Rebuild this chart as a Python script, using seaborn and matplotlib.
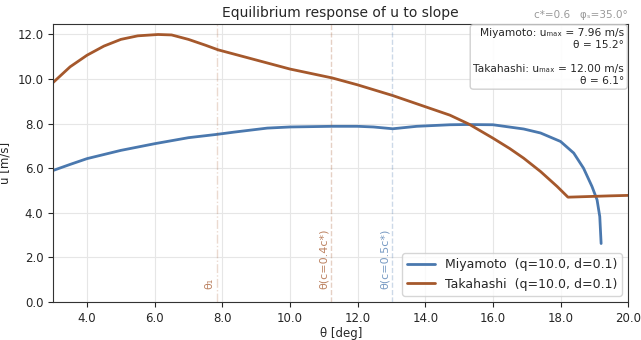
import numpy as np
import pandas as pd
import matplotlib
matplotlib.use("Agg")
import matplotlib.pyplot as plt
import seaborn as sns
from matplotlib.ticker import FormatStrFormatter

# --- data ---
theta_miy = [3.0, 3.5, 4.0, 5.0, 6.0, 7.0, 7.85, 8.35, 9.33, 10.0, 11.25, 12.0,
             12.47, 13.04, 13.75, 14.73, 15.2, 16.0, 16.91, 17.41, 18.0, 18.39,
             18.68, 18.93, 19.08, 19.16, 19.2]
u_miy = [5.90, 6.17, 6.43, 6.80, 7.10, 7.37, 7.52, 7.62, 7.80, 7.85, 7.88, 7.88,
         7.85, 7.77, 7.88, 7.95, 7.96, 7.95, 7.76, 7.58, 7.20, 6.68,
         6.00, 5.18, 4.58, 3.83, 2.62]

theta_tak = [3.0, 3.5, 4.0, 4.5, 5.0, 5.5, 6.1, 6.5, 7.0, 7.5, 7.88, 10.0, 11.25,
             12.0, 13.04, 14.0, 14.73, 15.29, 16.0, 16.5, 16.91, 17.41, 17.9, 18.22,
             19.47, 20.0]
u_tak = [9.85, 10.55, 11.07, 11.48, 11.78, 11.94, 12.00, 11.98, 11.78, 11.52, 11.31,
         10.45, 10.05, 9.74, 9.26, 8.76, 8.38, 7.98, 7.35, 6.88, 6.45, 5.85, 5.18,
         4.70, 4.76, 4.78]

theta_1 = 7.85
theta_c04 = 11.22
theta_c05 = 13.02

c_blue = "#4a78ae"
c_brown = "#a5582c"

df = pd.concat([
    pd.DataFrame({"theta": theta_miy, "u": u_miy, "model": "Miyamoto  (q=10.0, d=0.1)"}),
    pd.DataFrame({"theta": theta_tak, "u": u_tak, "model": "Takahashi  (q=10.0, d=0.1)"}),
])

sns.set_style("ticks")
plt.rcParams['font.family'] = ['DejaVu Sans']

fig, ax = plt.subplots(figsize=(6.41, 3.40), dpi=100)
fig.subplots_adjust(left=0.083, right=0.98, bottom=0.112, top=0.93)

ax.grid(True, color="#e6e6e6", linewidth=0.8)
ax.set_axisbelow(True)

sns.lineplot(data=df, x="theta", y="u", hue="model", sort=False,
             palette=[c_blue, c_brown], linewidth=2, ax=ax)

# reference lines
ax.axvline(theta_1, color=c_brown, alpha=0.22, linestyle="-.", linewidth=1)
ax.axvline(theta_c04, color=c_brown, alpha=0.28, linestyle="--", linewidth=1)
ax.axvline(theta_c05, color=c_blue, alpha=0.28, linestyle="--", linewidth=1)
ax.text(theta_1 - 0.08, 0.6, "θ₁", rotation=90, ha="right", va="bottom",
        fontsize=8, color=c_brown, alpha=0.75)
ax.text(theta_c04 - 0.08, 0.6, "θ(c=0.4c*)", rotation=90, ha="right", va="bottom",
        fontsize=8, color=c_brown, alpha=0.75)
ax.text(theta_c05 - 0.08, 0.6, "θ(c=0.5c*)", rotation=90, ha="right", va="bottom",
        fontsize=8, color=c_blue, alpha=0.75)

ax.set_xlim(3, 20)
ax.set_ylim(0, 12.48)
ax.set_xticks(np.arange(4, 21, 2))
ax.set_yticks(np.arange(0, 13, 2))
ax.xaxis.set_major_formatter(FormatStrFormatter('%.1f'))
ax.yaxis.set_major_formatter(FormatStrFormatter('%.1f'))
ax.tick_params(labelsize=8.5)
for s in ax.spines.values():
    s.set_color("#333333")
    s.set_linewidth(0.8)

ax.set_xlabel("θ [deg]", fontsize=8.5, labelpad=2)
ax.set_ylabel("u [m/s]", fontsize=8.5)
ax.set_title("Equilibrium response of u to slope", fontsize=10, pad=5)
ax.text(1.0, 1.015, "c*=0.6   φₛ=35.0°", transform=ax.transAxes, ha="right",
        va="bottom", fontsize=7.5, color="#999999")

info = ("Miyamoto: uₘₐₓ = 7.96 m/s\nθ = 15.2°\n\n"
        "Takahashi: uₘₐₓ = 12.00 m/s\nθ = 6.1°")
ax.text(0.993, 0.985, info, transform=ax.transAxes, ha="right", va="top",
        multialignment="right", fontsize=7.7, linespacing=1.25,
        bbox=dict(boxstyle="round,pad=0.3", facecolor="white", edgecolor="#cccccc", alpha=0.9))

leg = ax.legend(loc="lower right", fontsize=9, frameon=True, title=None,
                borderaxespad=0.5, handlelength=2.2)
leg.get_frame().set_edgecolor("#cccccc")

fig.savefig("out.png", dpi=100)
